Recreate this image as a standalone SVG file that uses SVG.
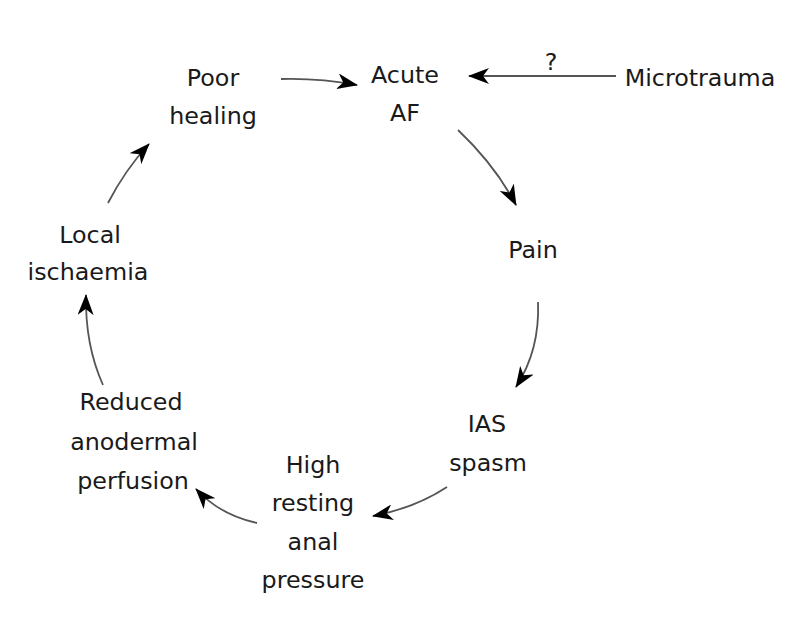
<svg xmlns="http://www.w3.org/2000/svg" width="800" height="631" viewBox="0 0 800 631">
<style>
text{font-family:"DejaVu Sans","Liberation Sans",sans-serif;font-size:23.8px;fill:#1a1a1a;text-anchor:middle}
.c{fill:none;stroke:#555;stroke-width:1.8}
</style>
<defs>
<marker id="ah" markerUnits="userSpaceOnUse" markerWidth="22" markerHeight="16" refX="20" refY="8" orient="auto" viewBox="0 0 22 16">
<path d="M0,0 L21,8 L0,16 L6,8 z" fill="#000"/>
</marker>
</defs>
<rect width="800" height="631" fill="#fff"/>
<g id="connectors">
<path class="c" d="M281,79 Q320,78 357,85" marker-end="url(#ah)"/>
<path class="c" d="M616,76 L469,76" marker-end="url(#ah)"/>
<path class="c" d="M458,130 Q495,165 516,205" marker-end="url(#ah)"/>
<path class="c" d="M538,302 Q540,350 516,387" marker-end="url(#ah)"/>
<path class="c" d="M447,487 Q415,508 373,516" marker-end="url(#ah)"/>
<path class="c" d="M257,523 Q220,515 196,489" marker-end="url(#ah)"/>
<path class="c" d="M103,385 Q85,345 86,295" marker-end="url(#ah)"/>
<path class="c" d="M108,203 Q125,170 149,144" marker-end="url(#ah)"/>
<text x="551" y="70">?</text>
</g>
<g id="poor-healing"><text x="213" y="86">Poor</text><text x="213" y="124">healing</text></g>
<g id="acute-af"><text x="405" y="83">Acute</text><text x="405" y="121">AF</text></g>
<g id="microtrauma"><text x="700" y="86">Microtrauma</text></g>
<g id="pain"><text x="533" y="258">Pain</text></g>
<g id="ias-spasm"><text x="487" y="432">IAS</text><text x="488" y="471">spasm</text></g>
<g id="high-resting"><text x="313" y="473">High</text><text x="313" y="511">resting</text><text x="313" y="550">anal</text><text x="313" y="588">pressure</text></g>
<g id="reduced-perfusion"><text x="131" y="410">Reduced</text><text x="134" y="450">anodermal</text><text x="133" y="489">perfusion</text></g>
<g id="local-ischaemia"><text x="90" y="243">Local</text><text x="88" y="280">ischaemia</text></g>
</svg>
